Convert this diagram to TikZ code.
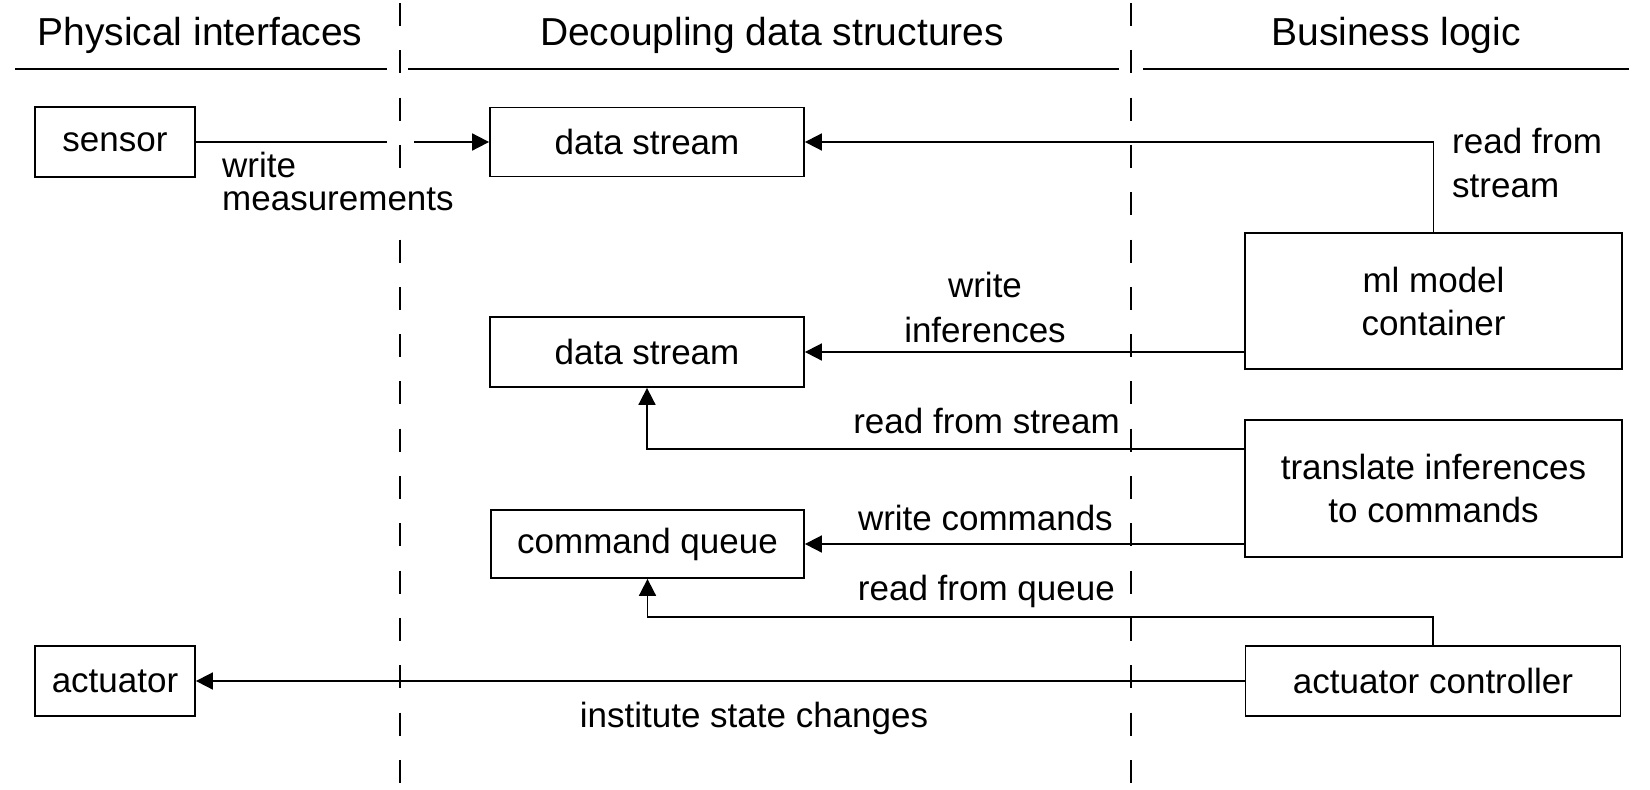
\documentclass[tikz,border=0pt]{standalone}
\usepackage{fontspec}
\setmainfont{Liberation Sans}
\usetikzlibrary{arrows.meta}
\newcommand\bodyfnt{\fontsize{35}{43}\selectfont}
\newcommand\hdrfnt{\fontsize{39}{46}\selectfont}
\begin{document}
\begin{tikzpicture}[x=1pt,y=-1pt,
  box/.style={draw, line width=1.8pt, inner sep=0pt, font=\bodyfnt, align=center},
  lbl/.style={inner sep=0pt, font=\bodyfnt},
  hdr/.style={inner sep=0pt, font=\hdrfnt, anchor=base},
  arr/.style={-{Triangle[length=17pt,width=17pt]}, line width=1.8pt},
  sepline/.style={line width=1.5pt, dash pattern=on 23pt off 24.3pt},
  rulestyle/.style={line width=1.5pt}]
\useasboundingbox[fill=white] (0,0) rectangle (1650,790);

% headers
\node[hdr] (h1) at (200,45) {Physical interfaces};
\node[hdr] (h2) at (772,45) {Decoupling data structures};
\node[hdr] (h3) at (1396,45) {Business logic};
\draw[rulestyle] (15,69) -- (387,69);
\draw[rulestyle] (408,69) -- (1119,69);
\draw[rulestyle] (1143,69) -- (1629,69);

% boxes
\node[box, minimum width=160pt, minimum height=70pt] (sensor) at (115,142) {sensor};
\node[box, minimum width=314pt, minimum height=69pt] (ds1) at (647,142) {data stream};
\node[box, minimum width=314pt, minimum height=70pt] (ds2) at (647,352) {data stream};
\node[box, minimum width=313pt, minimum height=68pt] (cq) at (647.5,544) {command queue};
\node[box, minimum width=160pt, minimum height=70pt] (act) at (115,681) {actuator};
\node[box, minimum width=377pt, minimum height=136pt] (ml) at (1433.5,301) {ml model\\container};
\node[box, minimum width=377pt, minimum height=137pt] (tr) at (1433.5,488.5) {translate inferences\\to commands};
\node[box, minimum width=375pt, minimum height=70pt] (ac) at (1433,681) {actuator controller};

% connectors
\draw[arr] (sensor.east) -- (ds1.west);
\draw[arr] (ml.north) |- (ds1.east);
\draw[arr] (ml.west |- ds2.east) -- (ds2.east);
\draw[arr] ([yshift=39.5pt]tr.west) -| (ds2.south);
\draw[arr] (tr.west |- cq.east) -- (cq.east);
\draw[arr] (ac.north) -- ++(0,-28) -| (cq.south);
\draw[arr] (ac.west) -- (act.east);

% gap in the sensor arrow
\draw[white, line width=4pt] (387,142) -- (414,142);

% dashed separators
\draw[sepline] (400,3) -- (400,790);
\draw[sepline] (1131,3) -- (1131,790);

% labels
\node[lbl, anchor=base west] (wm1) at (222,177) {write};
\node[lbl, anchor=base west, fill=white, inner xsep=0pt, inner ysep=5pt] (wm2) at (222,210) {measurements};
\node[lbl, anchor=base west] (rs1) at (1452,153) {read from};
\node[lbl, anchor=base west] (rs2) at (1452,197) {stream};
\node[lbl, anchor=base] (wi1) at (985,297) {write};
\node[lbl, anchor=base] (wi2) at (985,342) {inferences};
\node[lbl, anchor=base east] (rfs) at (1120,433) {read from stream};
\node[lbl, anchor=base east] (wc) at (1113,530) {write commands};
\node[lbl, anchor=base east] (rfq) at (1115,600) {read from queue};
\node[lbl, anchor=base] (isc) at (754,727) {institute state changes};
\end{tikzpicture}
\end{document}
